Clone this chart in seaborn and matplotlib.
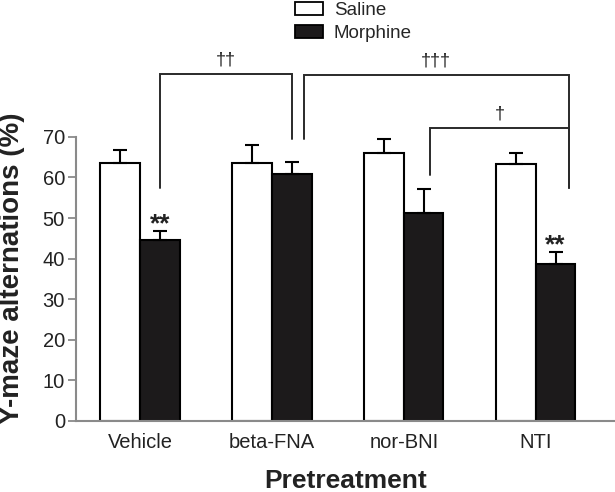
import matplotlib
matplotlib.use("Agg")
import matplotlib.pyplot as plt
import matplotlib.patches as mpatches
import seaborn as sns
import pandas as pd

# values
pretreatments = ["Vehicle", "beta-FNA", "nor-BNI", "NTI"]
saline_mean = [63.5, 63.5, 66.0, 63.3]
saline_sem = [3.2, 4.5, 3.5, 2.7]
morphine_mean = [44.6, 60.8, 51.2, 38.7]
morphine_sem = [2.2, 3.0, 5.9, 2.9]
stars_morphine = ["**", "", "", "**"]

# comparisons between morphine groups: (group a, group b, label)
comparisons = [(0, 1, "\u2020\u2020"), (1, 3, "\u2020\u2020\u2020"), (2, 3, "\u2020")]

df = pd.DataFrame({
    "pretreatment": pretreatments * 2,
    "treatment": ["Saline"] * 4 + ["Morphine"] * 4,
    "value": saline_mean + morphine_mean,
})

sns.set_style("ticks")
plt.rcParams["font.family"] = ["Liberation Sans", "DejaVu Sans"]

fig = plt.figure(figsize=(6.15, 4.92), dpi=100)
ax = fig.add_axes([76 / 615, 71 / 492, 539 / 615, 421 / 492])

sns.barplot(
    data=df, x="pretreatment", y="value", hue="treatment",
    palette={"Saline": "white", "Morphine": "#1c1a1b"},
    edgecolor="black", linewidth=1.5, width=0.6,
    errorbar=None, legend=False, ax=ax,
)

# one-sided error bars on top of each bar
for cont, sem in zip(ax.containers, [saline_sem, morphine_sem]):
    xs = [p.get_x() + p.get_width() / 2 for p in cont.patches]
    hs = [p.get_height() for p in cont.patches]
    ax.errorbar(xs, hs, yerr=[[0] * len(sem), sem], fmt="none",
                ecolor="black", elinewidth=1.5, capsize=5, capthick=1.5, zorder=3)

morph_x = [p.get_x() + p.get_width() / 2 for p in ax.containers[1].patches]
for x, h, e, s in zip(morph_x, morphine_mean, morphine_sem, stars_morphine):
    if s:
        ax.text(x, h + e - 1.4, s, ha="center", va="bottom", fontsize=19,
                fontweight="bold", color="#222222")

# significance brackets
bracket_cfg = [
    # (offset a, offset b, top, leg end a, leg end b)
    (0.0, 0.0, 85.5, 57.4, 69.5),
    (0.09, 0.1, 85.2, 69.5, 57.4),
    (0.05, 0.1, 72.2, 60.6, 57.4),
]
for (a, b, lab), (oa, ob, top, ea, eb) in zip(comparisons, bracket_cfg):
    xa = morph_x[a] + oa
    xb = morph_x[b] + ob
    ax.plot([xa, xa, xb, xb], [ea, top, top, eb], color="#2a2a2a", lw=1.4,
            clip_on=False, solid_joinstyle="miter")
    ax.text((xa + xb) / 2, top + 1.3, lab, ha="center", va="bottom",
            fontsize=13, color="#222222")

ax.set_ylim(0, 103.7)
ax.set_xlim(-0.485, 3.6)
ax.set_yticks(range(0, 71, 10))
ax.spines["left"].set_bounds(0, 70)
for side in ["top", "right"]:
    ax.spines[side].set_visible(False)
for side in ["left", "bottom"]:
    ax.spines[side].set_color("#8a8a8a")
    ax.spines[side].set_linewidth(1.5)
ax.tick_params(axis="y", length=6, width=1.3, color="#8a8a8a", pad=2,
               labelsize=14.5, labelcolor="#222222")
ax.tick_params(axis="x", length=0, pad=9, labelsize=14.5, labelcolor="#222222")

ax.set_xlabel("Pretreatment", fontsize=19, fontweight="bold", labelpad=12,
              color="#222222")
ax.set_ylabel("Y-maze alternations (%)", fontsize=20, fontweight="bold",
              color="#222222")
ax.yaxis.set_label_coords(-0.094, 0.363)

handles = [
    mpatches.Patch(facecolor="white", edgecolor="black", linewidth=1.3, label="Saline"),
    mpatches.Patch(facecolor="#1c1a1b", edgecolor="black", linewidth=1.3, label="Morphine"),
]
fig.legend(handles=handles, loc="upper left", bbox_to_anchor=(287 / 615, 1.012),
           frameon=False, fontsize=13.5, handlelength=1.5, handleheight=0.7,
           handletextpad=0.6, labelspacing=0.35, borderaxespad=0)

fig.savefig("out.png", dpi=100)
